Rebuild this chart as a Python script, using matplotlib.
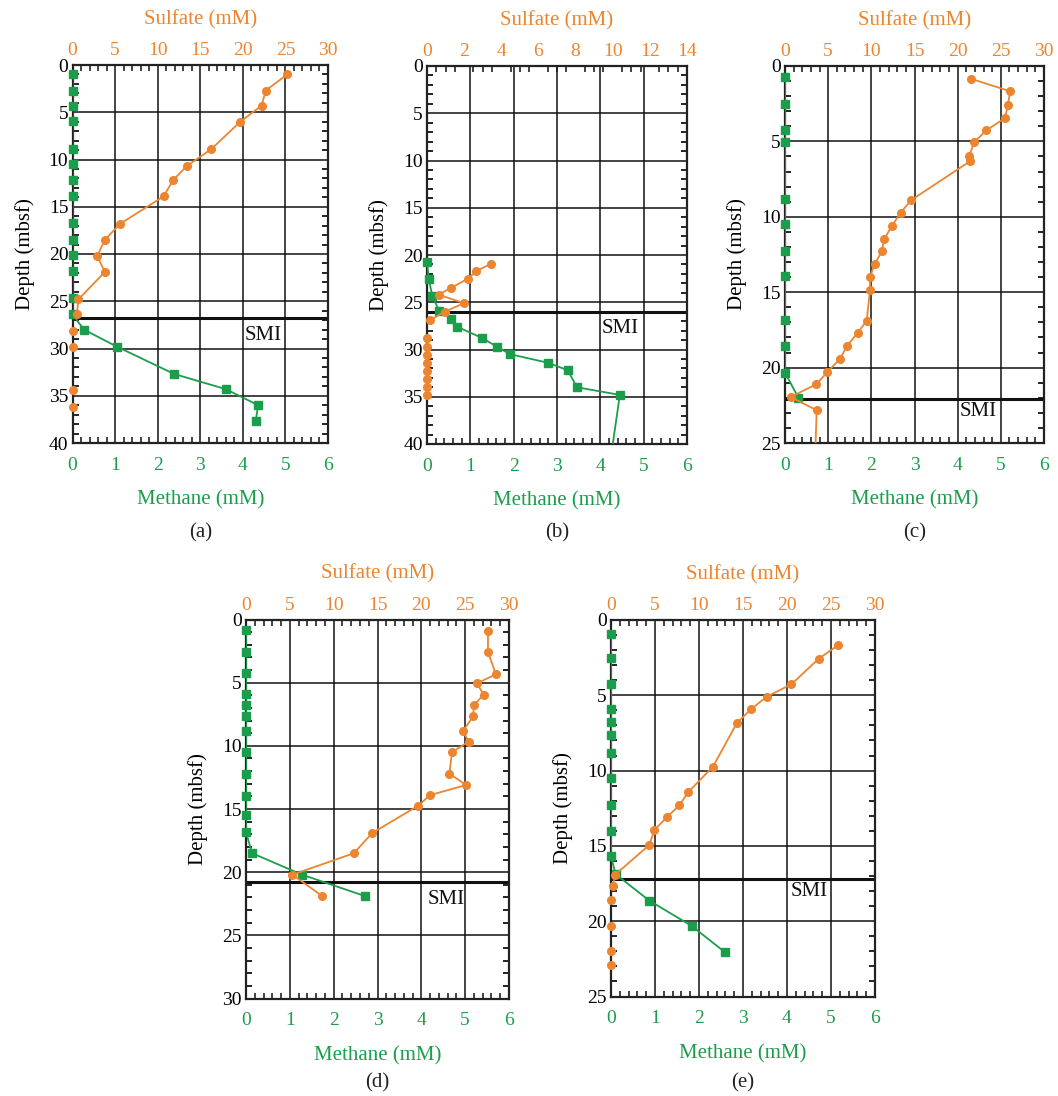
import numpy as np
import matplotlib
matplotlib.use("Agg")
import matplotlib.pyplot as plt
from matplotlib.ticker import MultipleLocator

plt.rcParams['font.family'] = ['Liberation Serif', 'DejaVu Serif']

ORANGE = '#EC8530'
GREEN = '#1A9E4B'

# ---------------- data ----------------
# Panel (a)
a_sulf_depth = [1.0, 2.7, 4.3, 6.0, 8.9, 10.7, 12.2, 13.9, 16.8, 18.5, 20.2, 21.9, 24.8, 26.4]
a_sulf = [25.2, 22.7, 22.2, 19.7, 16.3, 13.4, 11.8, 10.7, 5.6, 3.8, 2.9, 3.8, 0.7, 0.5]
a_sulf_nd_depth = [28.1, 29.8, 34.4, 36.2]
a_sulf_nd = [0, 0, 0, 0]
a_meth_depth = [1.0, 2.7, 4.3, 5.9, 8.9, 10.5, 12.2, 13.9, 16.7, 18.5, 20.1, 21.8, 24.7, 26.4,
                28.0, 29.8, 32.7, 34.3, 36.0, 37.7]
a_meth = [0, 0, 0, 0, 0, 0, 0, 0, 0, 0, 0, 0, 0, 0,
          0.27, 1.04, 2.39, 3.6, 4.36, 4.3]
a_smi = 26.8

# Panel (b)
b_sulf_depth = [20.9, 21.7, 22.5, 23.5, 24.2, 25.1, 26.0, 26.9]
b_sulf = [3.47, 2.66, 2.21, 1.27, 0.63, 1.99, 0.95, 0.16]
b_sulf_nd_depth = [28.8, 29.7, 30.6, 31.4, 32.3, 33.1, 34.0, 34.8]
b_sulf_nd = [0, 0, 0, 0, 0, 0, 0, 0]
b_meth_depth = [20.7, 22.5, 24.3, 25.9, 26.8, 27.6, 28.8, 29.7, 30.5, 31.4, 32.2, 34.0, 34.8, 41.5]
b_meth = [0.0, 0.04, 0.12, 0.28, 0.56, 0.7, 1.28, 1.61, 1.92, 2.79, 3.25, 3.46, 4.45, 4.24]
b_smi = 26.0

# Panel (c)
c_sulf_depth = [0.86, 1.68, 2.59, 3.45, 4.27, 5.07, 5.95, 6.33, 8.9, 9.72, 10.6, 11.45, 12.3,
                13.13, 13.97, 14.86, 16.9, 17.7, 18.6, 19.4, 20.3, 21.1, 21.95, 22.83, 25.8]
c_sulf = [21.6, 26.1, 25.8, 25.5, 23.3, 21.9, 21.35, 21.4, 14.6, 13.4, 12.4, 11.5, 11.2,
          10.4, 9.85, 9.85, 9.46, 8.4, 7.14, 6.4, 4.9, 3.63, 0.66, 3.67, 3.5]
c_sulf_nd_depth = []
c_sulf_nd = []
c_meth_depth = [0.72, 2.52, 4.22, 5.07, 8.83, 10.5, 12.27, 13.93, 16.83, 18.58, 20.33, 22.0]
c_meth = [0, 0, 0, 0, 0, 0, 0, 0, 0, 0, 0, 0.31]
c_smi = 22.1

# Panel (d)
d_sulf_depth = [0.88, 2.55, 4.34, 5.05, 5.95, 6.8, 7.67, 8.83, 9.67, 10.5, 12.2, 13.1, 13.9,
                14.76, 16.9, 18.5, 20.2, 21.9]
d_sulf = [27.6, 27.6, 28.5, 26.35, 27.1, 26.0, 25.9, 24.75, 25.4, 23.5, 23.2, 25.1, 21.0,
          19.6, 14.4, 12.3, 5.3, 8.7]
d_sulf_nd_depth = []
d_sulf_nd = []
d_meth_depth = [0.86, 2.55, 4.24, 5.92, 6.77, 7.61, 8.83, 10.5, 12.2, 13.97, 15.5, 16.85,
                18.5, 20.2, 21.9]
d_meth = [0, 0, 0, 0, 0, 0, 0, 0, 0, 0, 0, 0, 0.14, 1.28, 2.72]
d_smi = 20.8

# Panel (e)
e_sulf_depth = [1.68, 2.57, 4.27, 5.09, 5.93, 6.84, 9.73, 11.44, 12.3, 13.1, 13.94, 14.93,
                16.9, 17.68]
e_sulf = [25.8, 23.6, 20.5, 17.7, 15.9, 14.3, 11.6, 8.76, 7.78, 6.34, 4.93, 4.36, 0.5, 0.19]
e_sulf_nd_depth = [18.6, 20.3, 22.0, 22.9]
e_sulf_nd = [0, 0, 0, 0]
e_meth_depth = [0.91, 2.5, 4.25, 5.93, 6.77, 7.65, 8.83, 10.5, 12.26, 13.98, 15.69,
                16.88, 18.63, 20.33, 22.06]
e_meth = [0, 0, 0, 0, 0, 0, 0, 0, 0, 0, 0, 0.106, 0.87, 1.84, 2.59]
e_smi = 17.2

panel_labels = ['(a)', '(b)', '(c)', '(d)', '(e)']
depth_max = [40, 40, 25, 30, 25]
sulf_max = [30, 14, 30, 30, 30]
sulf_major = [5, 2, 5, 5, 5]
sulf_minor = [1, 0.5, 1, 1, 1]
smi_text_x = [4.05, 4.03, 4.04, 4.15, 4.09]

# ---------------- layout ----------------
W, H = 1058, 1096
fig = plt.figure(figsize=(W / 100, H / 100), dpi=100)

def rect(x0, y0, x1, y1):
    return [x0 / W, 1 - y1 / H, (x1 - x0) / W, (y1 - y0) / H]

rects = [rect(72.5, 65, 328, 443),
         rect(427, 66, 687, 444),
         rect(785, 66, 1044, 443),
         rect(246, 619.5, 509, 998.5),
         rect(611, 620, 875, 996.5)]
label_y = [533, 533, 533, 1083, 1083]

panels = [
    (a_sulf_depth, a_sulf, a_sulf_nd_depth, a_sulf_nd, a_meth_depth, a_meth, a_smi),
    (b_sulf_depth, b_sulf, b_sulf_nd_depth, b_sulf_nd, b_meth_depth, b_meth, b_smi),
    (c_sulf_depth, c_sulf, c_sulf_nd_depth, c_sulf_nd, c_meth_depth, c_meth, c_smi),
    (d_sulf_depth, d_sulf, d_sulf_nd_depth, d_sulf_nd, d_meth_depth, d_meth, d_smi),
    (e_sulf_depth, e_sulf, e_sulf_nd_depth, e_sulf_nd, e_meth_depth, e_meth, e_smi),
]

FS = 14
LFS = 15

for i, (sd, sv, ndd, ndv, md, mv, smi) in enumerate(panels):
    ax = fig.add_axes(rects[i])
    ymax = depth_max[i]
    ax.set_xlim(0, 6)
    ax.set_ylim(ymax, 0)
    ax.xaxis.set_major_locator(MultipleLocator(1))
    ax.xaxis.set_minor_locator(MultipleLocator(0.2))
    ax.yaxis.set_major_locator(MultipleLocator(5))
    ax.yaxis.set_minor_locator(MultipleLocator(1))
    ax.grid(True, which='major', color='#111111', linewidth=1.1)
    ax.set_axisbelow(True)
    ax.tick_params(which='both', direction='in', top=False, right=True, left=True, bottom=True,
                   labelsize=FS, width=1.2)
    ax.tick_params(which='major', length=0)
    ax.tick_params(which='minor', length=4.5)
    ax.tick_params(axis='x', colors=GREEN, labelcolor=GREEN, pad=10)
    ax.tick_params(axis='x', which='both', color='#222222')
    ax.tick_params(axis='y', pad=3)
    for sp in ax.spines.values():
        sp.set_linewidth(1.6)
        sp.set_color('#222222')
    ax.set_xlabel('Methane (mM)', color=GREEN, fontsize=LFS, labelpad=12)
    ax.set_ylabel('Depth (mbsf)', fontsize=LFS, labelpad=10)

    # SMI line and label
    ax.axhline(smi, color='#111111', linewidth=2.2, zorder=1.5)
    ax.text(smi_text_x[i], smi + (ymax / 40) * 1.8 * (1 if ymax >= 30 else 0.75), 'SMI',
            fontsize=LFS, va='center', ha='left', color='#111111', zorder=2)

    # methane
    md_a = np.array(md, dtype=float)
    mv_a = np.array(mv, dtype=float)
    ax.plot(mv_a, md_a, '-', color=GREEN, linewidth=1.3, zorder=3)
    inside = md_a <= ymax
    ax.plot(mv_a[inside], md_a[inside], 's', color=GREEN, markersize=6, zorder=4, clip_on=False)

    # sulfate (top axis)
    ax2 = ax.twiny()
    ax2.set_xlim(0, sulf_max[i])
    ax2.set_ylim(ymax, 0)
    ax2.xaxis.set_major_locator(MultipleLocator(sulf_major[i]))
    ax2.xaxis.set_minor_locator(MultipleLocator(sulf_minor[i]))
    ax2.tick_params(axis='x', which='both', direction='in', labelsize=FS, labelcolor=ORANGE,
                    color='#222222', width=1.2, pad=4)
    ax2.tick_params(axis='x', which='major', length=0)
    ax2.tick_params(axis='x', which='minor', length=4.5)
    for sp in ax2.spines.values():
        sp.set_visible(False)
    ax2.set_xlabel('Sulfate (mM)', color=ORANGE, fontsize=LFS, labelpad=13)

    sd_a = np.array(sd, dtype=float)
    sv_a = np.array(sv, dtype=float)
    ax2.plot(sv_a, sd_a, '-', color=ORANGE, linewidth=1.3, zorder=3)
    ins = sd_a <= ymax
    ax2.plot(sv_a[ins], sd_a[ins], 'o', color=ORANGE, markersize=5.5, zorder=4, clip_on=False)
    if len(ndd):
        ax2.plot(ndv, ndd, 'o', color=ORANGE, markersize=5.5, zorder=4, clip_on=False)

    # panel label
    r = rects[i]
    fig.text(r[0] + r[2] / 2, 1 - label_y[i] / H, panel_labels[i], ha='center', va='center',
             fontsize=LFS, color='#222222')

fig.savefig('out.png', dpi=100)
